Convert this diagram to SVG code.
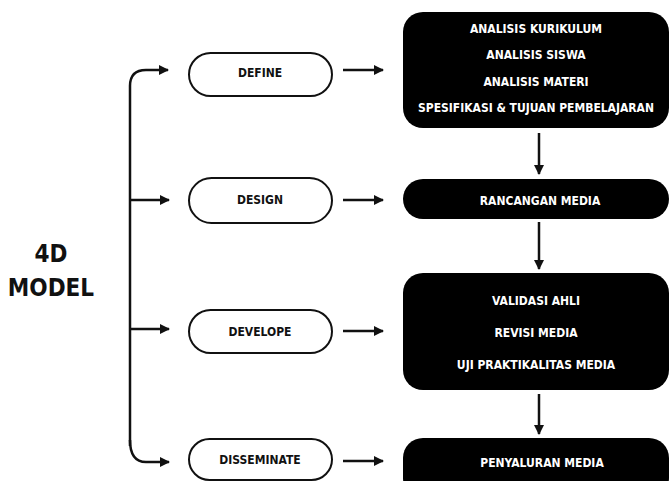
<svg xmlns="http://www.w3.org/2000/svg" width="669" height="481" viewBox="0 0 669 481">
<defs>
<style>
.pill{fill:#fff;stroke:#111;stroke-width:2}
.box{fill:#000}
.pt{font-family:"DejaVu Sans Condensed","DejaVu Sans",sans-serif;font-weight:bold;font-size:12px;fill:#111;text-anchor:middle;dominant-baseline:central}
.bt{font-family:"DejaVu Sans Condensed","DejaVu Sans",sans-serif;font-weight:bold;font-size:12px;fill:#fff;text-anchor:middle;dominant-baseline:central}
.title{font-family:"DejaVu Sans Condensed","DejaVu Sans",sans-serif;font-weight:bold;font-size:24px;fill:#111;text-anchor:middle;dominant-baseline:central}
.ln{fill:none;stroke:#111;stroke-width:2.5}
</style>
<marker id="ah" viewBox="0 0 10 10" refX="9" refY="5" markerWidth="4" markerHeight="4" orient="auto" markerUnits="strokeWidth">
<path d="M0,0 L10,5 L0,10 Z" fill="#111"/>
</marker>
</defs>
<rect width="669" height="481" fill="#fff"/>
<g id="title">
<text class="title" x="51" y="254">4D</text>
<text class="title" x="51" y="288">MODEL</text>
</g>
<g id="connectors">
<path class="ln" d="M130,446 V86 Q130,70 146,70 H168" marker-end="url(#ah)"/>
<path class="ln" d="M130,200 H169" marker-end="url(#ah)"/>
<path class="ln" d="M130,329 H169" marker-end="url(#ah)"/>
<path class="ln" d="M130,440 Q130,462 146,462 H169" marker-end="url(#ah)"/>
<path class="ln" d="M343,70 H383" marker-end="url(#ah)"/>
<path class="ln" d="M343,200 H383" marker-end="url(#ah)"/>
<path class="ln" d="M343,331 H383" marker-end="url(#ah)"/>
<path class="ln" d="M343,461 H383" marker-end="url(#ah)"/>
<path class="ln" d="M539,133 V174" marker-end="url(#ah)"/>
<path class="ln" d="M539,222 V269" marker-end="url(#ah)"/>
<path class="ln" d="M539,394 V434" marker-end="url(#ah)"/>
</g>
<g id="define">
<rect class="pill" x="189" y="53" width="143" height="43" rx="21.5"/>
<text class="pt" x="260" y="73">DEFINE</text>
</g>
<g id="design">
<rect class="pill" x="189" y="178" width="143" height="45" rx="22.5"/>
<text class="pt" x="260" y="200">DESIGN</text>
</g>
<g id="develope">
<rect class="pill" x="189" y="310" width="143" height="43" rx="21.5"/>
<text class="pt" x="260" y="332">DEVELOPE</text>
</g>
<g id="disseminate">
<rect class="pill" x="189" y="439" width="143" height="41" rx="20.5"/>
<text class="pt" x="260" y="460">DISSEMINATE</text>
</g>
<g id="define-box">
<rect class="box" x="403" y="12" width="266" height="116" rx="20"/>
<text class="bt" x="536" y="29">ANALISIS KURIKULUM</text>
<text class="bt" x="536" y="55">ANALISIS SISWA</text>
<text class="bt" x="536" y="82">ANALISIS MATERI</text>
<text class="bt" x="536" y="107.5" textLength="236" lengthAdjust="spacingAndGlyphs">SPESIFIKASI &amp; TUJUAN PEMBELAJARAN</text>
</g>
<g id="design-box">
<rect class="box" x="403" y="179" width="266" height="40" rx="20"/>
<text class="bt" x="540" y="201">RANCANGAN MEDIA</text>
</g>
<g id="develope-box">
<rect class="box" x="403" y="273" width="266" height="117" rx="20"/>
<text class="bt" x="536" y="301">VALIDASI AHLI</text>
<text class="bt" x="536" y="333">REVISI MEDIA</text>
<text class="bt" x="536" y="365">UJI PRAKTIKALITAS MEDIA</text>
</g>
<g id="disseminate-box">
<rect class="box" x="403" y="438" width="266" height="60" rx="20"/>
<text class="bt" x="542" y="463">PENYALURAN MEDIA</text>
</g>
</svg>
